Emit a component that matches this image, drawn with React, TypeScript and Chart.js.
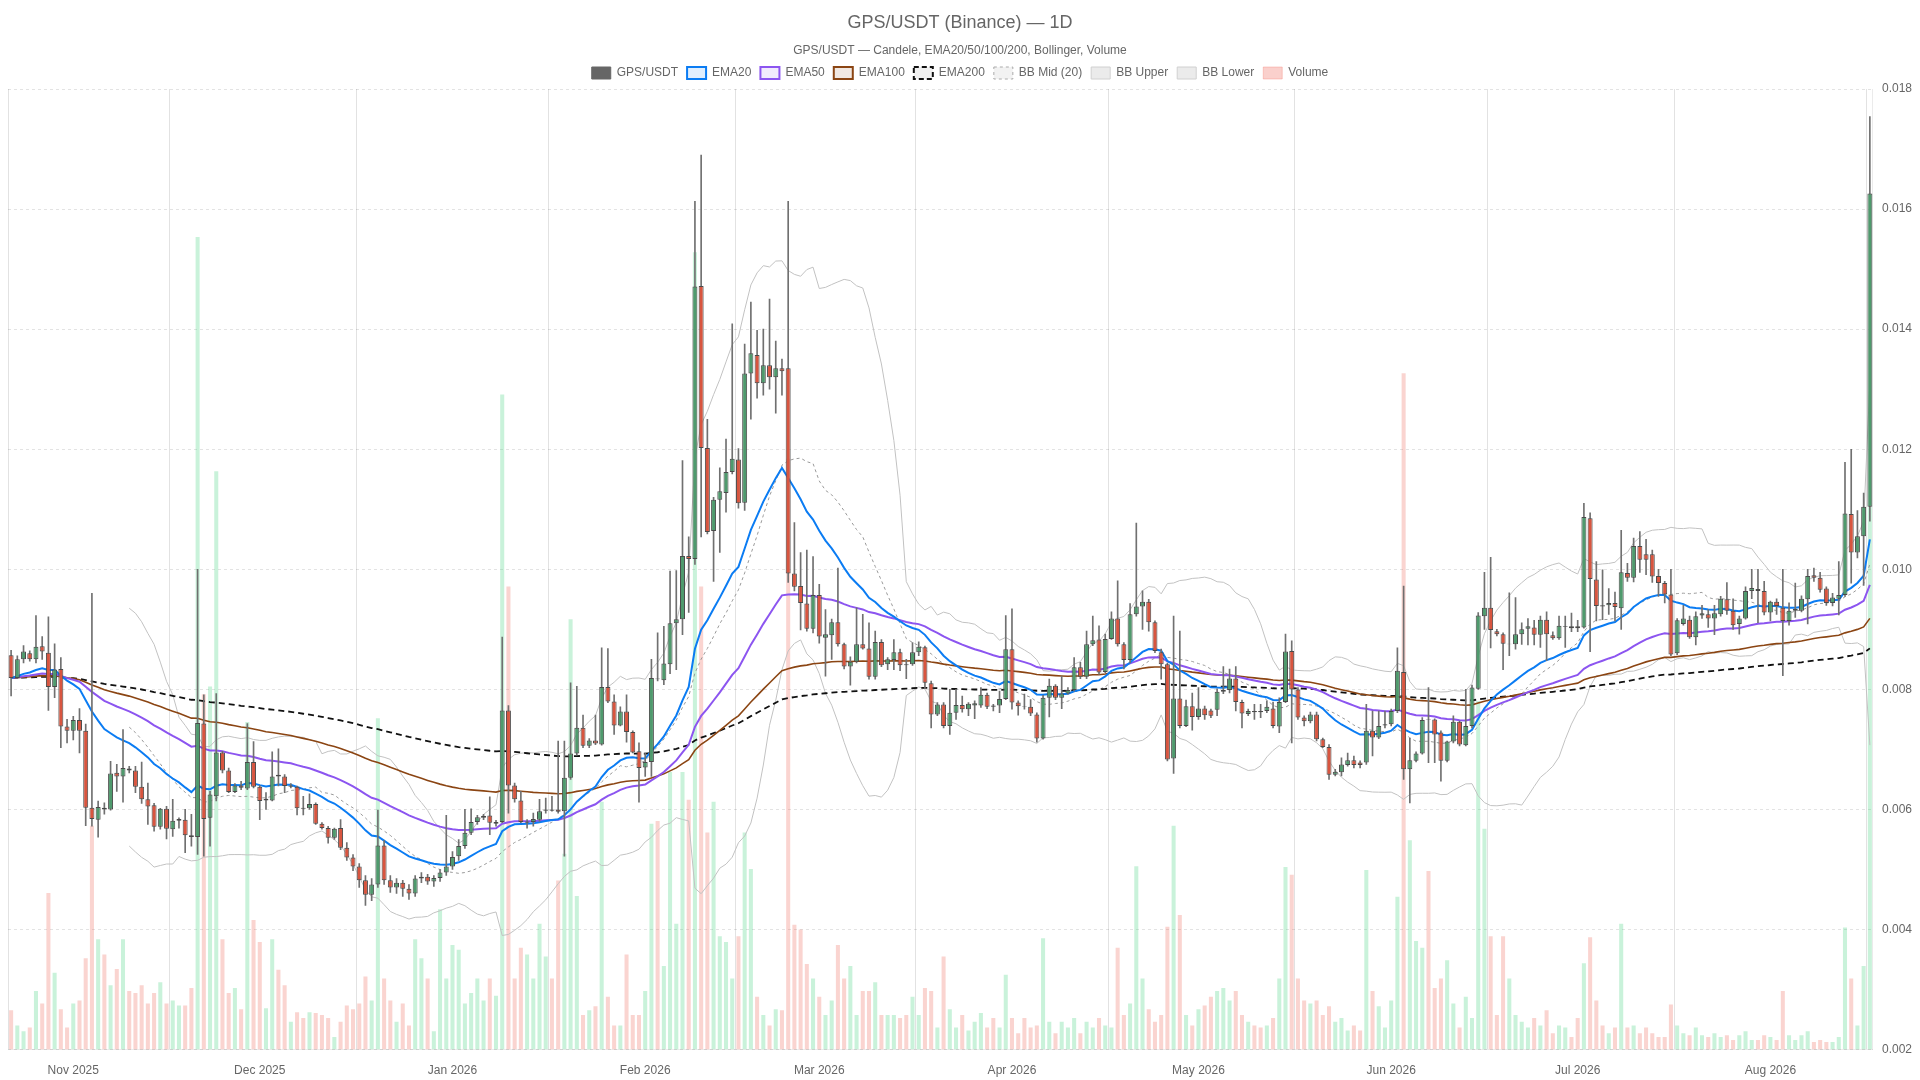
import React, { useEffect, useRef } from 'react';
import { Chart, registerables } from 'chart.js';

Chart.register(...registerables);

// ---------- data ----------
const START_DATE = '2025-10-22';

const OPEN = [
  0.00857,0.00819,0.00850,0.00860,0.00850,0.00872,0.00861,0.00804,0.00834,0.00738,
  0.00731,0.00749,0.00731,0.00603,0.00583,0.00603,0.00600,0.00661,0.00655,0.00668,
  0.00665,0.00638,0.00617,0.00607,0.00571,0.00601,0.00567,0.00581,0.00583,0.00557,
  0.00554,0.00743,0.00586,0.00622,0.00695,0.00665,0.00629,0.00640,0.00635,0.00679,
  0.00638,0.00615,0.00615,0.00658,0.00655,0.00638,0.00638,0.00603,0.00602,0.00609,
  0.00576,0.00569,0.00553,0.00569,0.00536,0.00520,0.00505,0.00482,0.00458,0.00475,
  0.00540,0.00482,0.00470,0.00478,0.00468,0.00460,0.00485,0.00488,0.00480,0.00486,
  0.00495,0.00505,0.00522,0.00539,0.00561,0.00579,0.00586,0.00590,0.00576,0.00579,
  0.00765,0.00640,0.00615,0.00578,0.00579,0.00583,0.00598,0.00600,0.00600,0.00597,
  0.00653,0.00693,0.00736,0.00706,0.00715,0.00708,0.00804,0.00780,0.00740,0.00763,
  0.00729,0.00697,0.00670,0.00679,0.00818,0.00815,0.00842,0.00910,0.00917,0.01022,
  0.01017,0.01472,0.01202,0.01064,0.01116,0.01127,0.01162,0.01183,0.01111,0.01326,
  0.01357,0.01310,0.01340,0.01320,0.01335,0.01335,0.00993,0.00972,0.00943,0.00901,
  0.00957,0.00886,0.00890,0.00912,0.00875,0.00838,0.00846,0.00875,0.00868,0.00821,
  0.00879,0.00842,0.00849,0.00862,0.00842,0.00842,0.00862,0.00870,0.00810,0.00758,
  0.00775,0.00739,0.00761,0.00774,0.00767,0.00773,0.00773,0.00791,0.00773,0.00773,
  0.00784,0.00867,0.00778,0.00772,0.00771,0.00758,0.00718,0.00786,0.00806,0.00786,
  0.00793,0.00799,0.00837,0.00821,0.00875,0.00883,0.00829,0.00884,0.00918,0.00875,
  0.00849,0.00925,0.00938,0.00946,0.00912,0.00862,0.00842,0.00685,0.00785,0.00739,
  0.00772,0.00754,0.00768,0.00765,0.00766,0.00796,0.00799,0.00818,0.00779,0.00759,
  0.00764,0.00764,0.00764,0.00768,0.00738,0.00779,0.00864,0.00800,0.00753,0.00747,
  0.00758,0.00717,0.00704,0.00658,0.00662,0.00674,0.00682,0.00678,0.00678,0.00731,
  0.00720,0.00740,0.00742,0.00764,0.00829,0.00667,0.00681,0.00693,0.00750,0.00750,
  0.00728,0.00681,0.00713,0.00746,0.00707,0.00739,0.00801,0.00922,0.00936,0.00897,
  0.00892,0.00875,0.00875,0.00892,0.00901,0.00903,0.00891,0.00916,0.00890,0.00885,
  0.00904,0.00905,0.00905,0.00903,0.01085,0.00983,0.00940,0.00940,0.00944,0.00935,
  0.00994,0.00986,0.01039,0.01025,0.01025,0.00989,0.00977,0.00958,0.00860,0.00909,
  0.00916,0.00887,0.00923,0.00925,0.00918,0.00925,0.00950,0.00931,0.00909,0.00918,
  0.00964,0.00967,0.00964,0.00928,0.00946,0.00936,0.00914,0.00931,0.00931,0.00950,
  0.00990,0.00986,0.00968,0.00944,0.00951,0.00957,0.01092,0.01028,0.01055,0.01104,
];

const HIGH = [
  0.00865,0.00856,0.00873,0.00864,0.00923,0.00888,0.00921,0.00876,0.00853,0.00750,
  0.00755,0.00768,0.00742,0.00960,0.00614,0.00611,0.00680,0.00675,0.00733,0.00672,
  0.00672,0.00679,0.00644,0.00610,0.00602,0.00605,0.00617,0.00586,0.00600,0.00592,
  0.01000,0.00791,0.00630,0.00793,0.00697,0.00669,0.00643,0.00647,0.00743,0.00713,
  0.00640,0.00628,0.00696,0.00701,0.00658,0.00643,0.00639,0.00622,0.00626,0.00611,
  0.00578,0.00572,0.00569,0.00583,0.00545,0.00525,0.00510,0.00490,0.00485,0.00599,
  0.00548,0.00490,0.00485,0.00482,0.00475,0.00490,0.00495,0.00492,0.00490,0.00500,
  0.00590,0.00530,0.00550,0.00600,0.00601,0.00590,0.00592,0.00621,0.00582,0.00887,
  0.00773,0.00644,0.00630,0.00583,0.00594,0.00617,0.00619,0.00622,0.00714,0.00714,
  0.00811,0.00805,0.00757,0.00718,0.00757,0.00869,0.00868,0.00791,0.00771,0.00791,
  0.00731,0.00711,0.00694,0.00850,0.00894,0.00905,0.00997,0.00998,0.01181,0.01054,
  0.01613,0.01690,0.01250,0.01120,0.01169,0.01217,0.01409,0.01201,0.01375,0.01445,
  0.01398,0.01400,0.01450,0.01380,0.01350,0.01613,0.01078,0.01028,0.01032,0.01021,
  0.00975,0.00933,0.00917,0.01002,0.00877,0.00854,0.00936,0.00925,0.00911,0.00897,
  0.00883,0.00853,0.00883,0.00867,0.00850,0.00878,0.00879,0.00872,0.00814,0.00778,
  0.00778,0.00800,0.00800,0.00789,0.00778,0.00781,0.00803,0.00794,0.00775,0.00797,
  0.00923,0.00934,0.00781,0.00792,0.00783,0.00761,0.00790,0.00817,0.00808,0.00822,
  0.00803,0.00853,0.00845,0.00897,0.00922,0.00906,0.00892,0.00929,0.00981,0.00878,
  0.00943,0.01077,0.00964,0.00950,0.00914,0.00867,0.00844,0.00922,0.00897,0.00782,
  0.00794,0.00803,0.00772,0.00767,0.00801,0.00838,0.00834,0.00838,0.00782,0.00767,
  0.00775,0.00775,0.00781,0.00779,0.00786,0.00892,0.00881,0.00803,0.00756,0.00762,
  0.00762,0.00719,0.00708,0.00667,0.00686,0.00694,0.00689,0.00681,0.00775,0.00764,
  0.00764,0.00764,0.00767,0.00869,0.00972,0.00719,0.00696,0.00753,0.00803,0.00751,
  0.00731,0.00714,0.00756,0.00747,0.00800,0.00807,0.00928,0.00995,0.01020,0.00900,
  0.00894,0.00961,0.00953,0.00911,0.00918,0.00915,0.00922,0.00929,0.00896,0.00922,
  0.00922,0.00927,0.00915,0.01110,0.01094,0.01013,0.00999,0.00968,0.00962,0.01065,
  0.01010,0.01052,0.01063,0.01050,0.01032,0.01000,0.00980,0.01000,0.00918,0.00940,
  0.00922,0.00929,0.00940,0.00933,0.00940,0.00955,0.00978,0.00951,0.00922,0.00971,
  0.01000,0.01000,0.00980,0.00947,0.00951,0.01000,0.00944,0.00977,0.00956,0.01000,
  0.01002,0.00995,0.00971,0.00960,0.01013,0.01178,0.01200,0.01098,0.01127,0.01754,
];

const LOW = [
  0.00789,0.00818,0.00844,0.00847,0.00844,0.00850,0.00765,0.00786,0.00703,0.00711,
  0.00716,0.00694,0.00573,0.00572,0.00554,0.00592,0.00599,0.00630,0.00612,0.00661,
  0.00628,0.00610,0.00575,0.00564,0.00567,0.00551,0.00555,0.00569,0.00528,0.00539,
  0.00525,0.00522,0.00539,0.00614,0.00661,0.00628,0.00628,0.00633,0.00633,0.00636,
  0.00583,0.00600,0.00614,0.00639,0.00628,0.00636,0.00591,0.00591,0.00600,0.00575,
  0.00567,0.00544,0.00550,0.00533,0.00515,0.00498,0.00470,0.00440,0.00448,0.00470,
  0.00475,0.00462,0.00460,0.00455,0.00450,0.00455,0.00478,0.00475,0.00472,0.00480,
  0.00490,0.00500,0.00515,0.00535,0.00558,0.00575,0.00583,0.00558,0.00572,0.00578,
  0.00594,0.00612,0.00578,0.00569,0.00572,0.00580,0.00594,0.00597,0.00594,0.00522,
  0.00650,0.00691,0.00703,0.00703,0.00708,0.00707,0.00778,0.00725,0.00739,0.00712,
  0.00694,0.00612,0.00655,0.00655,0.00814,0.00808,0.00826,0.00833,0.00891,0.00928,
  0.01008,0.01054,0.01059,0.00980,0.01028,0.01095,0.01159,0.01102,0.01098,0.01250,
  0.01285,0.01290,0.01300,0.01260,0.01290,0.00978,0.00964,0.00899,0.00897,0.00894,
  0.00877,0.00822,0.00850,0.00872,0.00834,0.00807,0.00844,0.00867,0.00817,0.00817,
  0.00838,0.00833,0.00833,0.00831,0.00818,0.00840,0.00856,0.00801,0.00736,0.00756,
  0.00736,0.00725,0.00750,0.00762,0.00756,0.00751,0.00770,0.00768,0.00764,0.00761,
  0.00783,0.00767,0.00757,0.00767,0.00756,0.00712,0.00717,0.00754,0.00783,0.00768,
  0.00792,0.00797,0.00818,0.00818,0.00873,0.00825,0.00828,0.00883,0.00872,0.00834,
  0.00844,0.00922,0.00900,0.00897,0.00861,0.00817,0.00681,0.00660,0.00736,0.00738,
  0.00732,0.00750,0.00750,0.00753,0.00756,0.00793,0.00794,0.00764,0.00736,0.00756,
  0.00750,0.00753,0.00761,0.00736,0.00728,0.00778,0.00711,0.00750,0.00739,0.00744,
  0.00714,0.00703,0.00650,0.00656,0.00656,0.00672,0.00669,0.00669,0.00675,0.00689,
  0.00718,0.00736,0.00739,0.00761,0.00650,0.00611,0.00679,0.00692,0.00678,0.00678,
  0.00647,0.00679,0.00711,0.00706,0.00706,0.00736,0.00800,0.00900,0.00869,0.00889,
  0.00833,0.00856,0.00867,0.00875,0.00874,0.00874,0.00870,0.00848,0.00883,0.00883,
  0.00870,0.00896,0.00896,0.00902,0.00863,0.00914,0.00916,0.00925,0.00914,0.00900,
  0.00980,0.00979,0.00995,0.00991,0.00978,0.00955,0.00944,0.00856,0.00858,0.00907,
  0.00885,0.00874,0.00918,0.00903,0.00891,0.00922,0.00925,0.00900,0.00892,0.00917,
  0.00951,0.00911,0.00924,0.00914,0.00925,0.00823,0.00907,0.00920,0.00929,0.00909,
  0.00980,0.00962,0.00940,0.00939,0.00924,0.00955,0.00977,0.01019,0.00973,0.01080,
];

const CLOSE = [
  0.00819,0.00850,0.00863,0.00850,0.00871,0.00863,0.00804,0.00833,0.00738,0.00731,
  0.00749,0.00731,0.00603,0.00584,0.00604,0.00600,0.00660,0.00655,0.00669,0.00665,
  0.00638,0.00617,0.00605,0.00571,0.00601,0.00568,0.00581,0.00584,0.00557,0.00554,
  0.00744,0.00584,0.00625,0.00695,0.00665,0.00629,0.00640,0.00636,0.00679,0.00638,
  0.00614,0.00618,0.00655,0.00655,0.00639,0.00640,0.00602,0.00601,0.00609,0.00576,
  0.00569,0.00553,0.00568,0.00536,0.00520,0.00505,0.00482,0.00458,0.00475,0.00540,
  0.00482,0.00470,0.00478,0.00468,0.00460,0.00485,0.00488,0.00480,0.00486,0.00495,
  0.00505,0.00521,0.00539,0.00561,0.00579,0.00587,0.00589,0.00578,0.00579,0.00765,
  0.00640,0.00617,0.00579,0.00580,0.00584,0.00597,0.00600,0.00598,0.00596,0.00653,
  0.00693,0.00736,0.00706,0.00715,0.00710,0.00804,0.00780,0.00740,0.00763,0.00729,
  0.00695,0.00669,0.00679,0.00819,0.00817,0.00843,0.00910,0.00917,0.01022,0.01017,
  0.01471,0.01202,0.01062,0.01116,0.01130,0.01162,0.01184,0.01110,0.01326,0.01360,
  0.01310,0.01340,0.01320,0.01335,0.01330,0.00993,0.00971,0.00944,0.00901,0.00957,
  0.00888,0.00892,0.00912,0.00875,0.00838,0.00846,0.00875,0.00868,0.00821,0.00879,
  0.00840,0.00850,0.00862,0.00840,0.00840,0.00862,0.00871,0.00811,0.00758,0.00775,
  0.00739,0.00761,0.00774,0.00767,0.00776,0.00777,0.00791,0.00771,0.00771,0.00784,
  0.00867,0.00778,0.00772,0.00771,0.00760,0.00718,0.00786,0.00806,0.00786,0.00793,
  0.00799,0.00837,0.00821,0.00875,0.00882,0.00828,0.00884,0.00918,0.00875,0.00849,
  0.00925,0.00938,0.00946,0.00912,0.00864,0.00842,0.00683,0.00785,0.00739,0.00772,
  0.00754,0.00768,0.00757,0.00756,0.00796,0.00799,0.00818,0.00779,0.00760,0.00764,
  0.00762,0.00762,0.00771,0.00739,0.00779,0.00863,0.00800,0.00753,0.00747,0.00758,
  0.00717,0.00704,0.00658,0.00663,0.00675,0.00682,0.00674,0.00674,0.00731,0.00720,
  0.00739,0.00742,0.00764,0.00831,0.00667,0.00682,0.00693,0.00749,0.00749,0.00725,
  0.00681,0.00713,0.00746,0.00708,0.00739,0.00803,0.00923,0.00936,0.00899,0.00892,
  0.00876,0.00876,0.00892,0.00900,0.00905,0.00891,0.00916,0.00892,0.00885,0.00906,
  0.00905,0.00902,0.00902,0.01087,0.00984,0.00939,0.00938,0.00944,0.00937,0.00995,
  0.00986,0.01039,0.01016,0.01016,0.00988,0.00977,0.00958,0.00858,0.00915,0.00918,
  0.00887,0.00922,0.00927,0.00918,0.00927,0.00951,0.00931,0.00907,0.00918,0.00964,
  0.00969,0.00964,0.00928,0.00946,0.00939,0.00914,0.00931,0.00934,0.00951,0.00989,
  0.00986,0.00966,0.00944,0.00953,0.00957,0.01093,0.01028,0.01055,0.01104,0.01626,
];

// volume, millions of GPS
const VOLUME = [
  4.1,2.5,1.9,2.3,6.1,4.8,16.3,8.0,4.2,2.3,
  4.8,5.1,9.5,23.3,11.5,9.9,6.7,8.4,11.5,6.1,
  5.9,6.7,4.8,5.9,7.0,4.8,5.1,4.6,4.6,6.4,
  84.6,37.0,37.8,60.2,11.5,5.9,6.4,4.2,34.1,13.5,
  11.2,4.3,11.5,8.3,6.7,2.9,3.9,3.3,3.9,3.8,
  3.6,3.3,1.3,2.9,4.6,4.2,4.8,7.6,5.1,34.5,
  7.4,5.1,2.9,4.8,2.5,11.5,9.5,7.4,1.9,14.6,
  7.4,10.9,10.4,4.8,5.9,7.4,5.1,7.4,5.6,68.2,
  48.2,7.4,10.6,9.9,7.4,13.1,9.7,7.4,17.6,20.4,
  44.8,16.0,3.6,4.1,4.5,25.8,5.5,2.5,2.5,9.9,
  3.6,3.6,6.1,23.5,23.8,8.7,28.9,13.1,28.9,26.0,
  83.0,48.2,22.6,25.8,11.8,11.2,7.4,11.8,22.6,18.8,
  5.5,3.6,2.5,4.2,4.1,61.5,13.0,12.5,8.9,7.4,
  5.5,3.6,5.1,10.9,7.4,8.7,3.6,6.1,6.1,7.0,
  3.6,3.6,3.6,3.3,3.6,5.5,3.6,6.4,6.1,2.3,
  9.7,4.2,2.3,3.6,2.0,2.9,3.8,2.3,3.3,2.3,
  7.8,3.3,1.7,3.3,2.3,2.5,11.6,2.9,1.7,2.9,
  2.3,3.3,1.7,2.9,2.3,3.3,2.5,2.3,10.6,3.6,
  4.8,19.1,7.4,4.2,2.9,3.6,12.8,23.3,14.0,3.6,
  2.5,4.2,4.6,5.5,6.1,6.4,5.1,6.1,3.6,2.9,
  2.5,2.3,2.5,3.3,7.4,19.0,18.2,7.4,5.1,4.8,
  5.1,3.6,4.5,2.9,3.3,2.0,2.5,2.0,18.7,6.1,
  4.5,2.3,5.1,15.9,70.4,21.8,11.3,10.6,18.6,6.4,
  7.4,9.3,4.8,2.3,5.5,3.3,36.3,23.0,11.8,3.6,
  11.8,7.4,3.6,2.9,2.3,3.3,2.5,4.1,1.7,2.5,
  2.3,1.3,3.3,9.0,11.7,5.1,2.5,1.7,2.3,13.1,
  2.3,2.5,1.7,2.3,1.7,1.3,1.3,4.7,2.5,1.7,
  1.5,2.3,1.5,1.3,1.7,1.3,1.5,1.0,1.5,1.9,
  1.0,1.0,1.5,1.3,1.0,6.1,1.5,1.0,1.5,1.9,
  0.8,1.0,0.8,0.8,1.3,12.7,7.4,2.5,8.7,56.5,
];

const PRICE_TICKS = [0.002, 0.004, 0.006, 0.008, 0.010, 0.012, 0.014, 0.016, 0.018];
const MONTH_NAMES = ['Jan','Feb','Mar','Apr','May','Jun','Jul','Aug','Sep','Oct','Nov','Dec'];

// ---------- styles ----------
const UP = '#4f9a6d';
const DOWN = '#d8553f';
const VOL_UP = 'rgba(46,204,113,0.26)';
const VOL_DOWN = 'rgba(235,90,75,0.26)';
const C_EMA20 = '#0b7cf3';
const C_EMA50 = '#8c55f0';
const C_EMA100 = '#8b4513';
const C_EMA200 = '#111111';
const CLEAR = 'rgba(0,0,0,0)';

// ---------- derived ----------
const DAY = 86400000;
const t0 = new Date(START_DATE + 'T00:00:00Z').getTime();
const DATES = CLOSE.map((_, i) => new Date(t0 + i * DAY).toISOString().slice(0, 10));

function ema(values: number[], period: number): number[] {
  const k = 2 / (period + 1);
  const out: number[] = [];
  let prev = values[0];
  values.forEach((v, i) => {
    prev = i === 0 ? v : v * k + prev * (1 - k);
    out.push(prev);
  });
  return out;
}

function bollinger(values: number[], period: number, mult: number) {
  const mid: (number | null)[] = [];
  const up: (number | null)[] = [];
  const lo: (number | null)[] = [];
  values.forEach((_, i) => {
    if (i < period - 1) { mid.push(null); up.push(null); lo.push(null); return; }
    const w = values.slice(i - period + 1, i + 1);
    const m = w.reduce((a, b) => a + b, 0) / period;
    const sd = Math.sqrt(w.reduce((a, b) => a + (b - m) * (b - m), 0) / period);
    mid.push(m); up.push(m + mult * sd); lo.push(m - mult * sd);
  });
  return { mid, up, lo };
}

// vertical grid lines half-way between month starts (like an offset time axis)
function monthGridIndexes(): Set<number> {
  const set = new Set<number>([0]);
  const first = new Date(t0);
  let y = first.getUTCFullYear();
  let m = first.getUTCMonth() + 1;
  const starts: number[] = [];
  for (let k = 0; k < 14; k++) {
    const ts = Date.UTC(y, m, 1);
    starts.push(Math.round((ts - t0) / DAY));
    m++; if (m > 11) { m = 0; y++; }
  }
  for (let k = 0; k < starts.length - 1; k++) {
    const mid = (starts[k] + starts[k + 1]) / 2;
    const idx = Math.floor(mid) + 1; // grid offset: line drawn at idx - 0.5
    if (idx > 0 && idx < CLOSE.length) set.add(idx);
  }
  return set;
}

export default function App() {
  const ref = useRef<HTMLCanvasElement | null>(null);

  useEffect(() => {
    if (!ref.current) return;
    const ema20 = ema(CLOSE, 20);
    const ema50 = ema(CLOSE, 50);
    const ema100 = ema(CLOSE, 100);
    const ema200 = ema(CLOSE, 200);
    const bb = bollinger(CLOSE, 20, 2);
    const bodies = CLOSE.map((c, i) => [OPEN[i], c]);
    const wicks = CLOSE.map((_, i) => [LOW[i], HIGH[i]]);
    const isUp = CLOSE.map((c, i) => c >= OPEN[i]);
    const gridIdx = monthGridIndexes();

    const legendItems = [
      { text: 'GPS/USDT', fillStyle: '#666666', strokeStyle: '#666666', lineWidth: 1, lineDash: [] as number[], datasetIndex: 0 },
      { text: 'EMA20', fillStyle: 'rgba(11,124,243,0.12)', strokeStyle: C_EMA20, lineWidth: 2, lineDash: [] as number[], datasetIndex: 2 },
      { text: 'EMA50', fillStyle: 'rgba(140,85,240,0.12)', strokeStyle: C_EMA50, lineWidth: 2, lineDash: [] as number[], datasetIndex: 3 },
      { text: 'EMA100', fillStyle: 'rgba(139,69,19,0.12)', strokeStyle: C_EMA100, lineWidth: 2, lineDash: [] as number[], datasetIndex: 4 },
      { text: 'EMA200', fillStyle: 'rgba(0,0,0,0.06)', strokeStyle: C_EMA200, lineWidth: 2, lineDash: [5, 3], datasetIndex: 5 },
      { text: 'BB Mid (20)', fillStyle: 'rgba(0,0,0,0.05)', strokeStyle: '#aaaaaa', lineWidth: 1, lineDash: [3, 3], datasetIndex: 6 },
      { text: 'BB Upper', fillStyle: 'rgba(0,0,0,0.08)', strokeStyle: '#d0d0d0', lineWidth: 1, lineDash: [] as number[], datasetIndex: 7 },
      { text: 'BB Lower', fillStyle: 'rgba(0,0,0,0.08)', strokeStyle: '#d0d0d0', lineWidth: 1, lineDash: [] as number[], datasetIndex: 8 },
      { text: 'Volume', fillStyle: 'rgba(240,120,110,0.35)', strokeStyle: 'rgba(240,120,110,0.35)', lineWidth: 1, lineDash: [] as number[], datasetIndex: 9 },
    ].map((it) => ({ ...it, hidden: false, fontColor: '#666' }));

    const lineBase = { type: 'line' as const, pointRadius: 0, pointHoverRadius: 0, tension: 0, fill: false, yAxisID: 'y' };

    const chart = new Chart(ref.current, {
      type: 'bar',
      data: {
        labels: DATES,
        datasets: [
          {
            type: 'bar', label: 'GPS/USDT', data: bodies as any, yAxisID: 'y',
            backgroundColor: isUp.map((u) => (u ? UP : DOWN)),
            borderColor: '#4a4a4a', borderWidth: 1, borderSkipped: false,
            barPercentage: 0.8, categoryPercentage: 1, grouped: false, order: 0,
          },
          {
            type: 'bar', label: 'wick', data: wicks as any, yAxisID: 'y',
            backgroundColor: '#707070', barThickness: 1, grouped: false, order: 1,
          },
          { ...lineBase, label: 'EMA20', data: ema20, borderColor: C_EMA20, borderWidth: 2, order: 2 },
          { ...lineBase, label: 'EMA50', data: ema50, borderColor: C_EMA50, borderWidth: 2, order: 3 },
          { ...lineBase, label: 'EMA100', data: ema100, borderColor: C_EMA100, borderWidth: 1.6, order: 4 },
          { ...lineBase, label: 'EMA200', data: ema200, borderColor: C_EMA200, borderWidth: 1.8, borderDash: [6, 4], order: 5 },
          { ...lineBase, label: 'BB Mid (20)', data: bb.mid, borderColor: '#9a9a9a', borderWidth: 1, borderDash: [3, 3], order: 6 },
          { ...lineBase, label: 'BB Upper', data: bb.up, borderColor: '#c2c2c2', borderWidth: 1, order: 7 },
          { ...lineBase, label: 'BB Lower', data: bb.lo, borderColor: '#c2c2c2', borderWidth: 1, order: 8 },
          {
            type: 'bar', label: 'Volume', data: VOLUME, yAxisID: 'y2',
            backgroundColor: isUp.map((u) => (u ? VOL_UP : VOL_DOWN)),
            borderWidth: 0, barPercentage: 0.65, categoryPercentage: 1, grouped: false, order: 20,
          },
        ] as any,
      },
      options: {
        responsive: true,
        maintainAspectRatio: false,
        animation: false,
        events: [],
        layout: { padding: { left: 0, right: 0, top: 0, bottom: 0 } },
        plugins: {
          title: {
            display: true, text: 'GPS/USDT (Binance) — 1D', color: '#666',
            font: { size: 18, weight: 'normal' }, padding: { top: 4, bottom: 8 },
          },
          subtitle: {
            display: true, text: 'GPS/USDT — Candele, EMA20/50/100/200, Bollinger, Volume', color: '#666',
            font: { size: 12 }, padding: { top: 2, bottom: 0 },
          },
          legend: {
            display: true, position: 'top',
            labels: {
              boxWidth: 19, boxHeight: 12, padding: 9, color: '#666', font: { size: 12 },
              generateLabels: () => legendItems as any,
            },
          },
          tooltip: { enabled: false },
        },
        scales: {
          x: {
            type: 'category',
            offset: true,
            grid: {
              offset: true,
              drawTicks: true,
              tickLength: 12,
              tickColor: CLEAR,
              color: (ctx: any) => (gridIdx.has(ctx.index) ? '#e2e2e2' : CLEAR),
              lineWidth: 1,
            },
            border: { display: true, color: 'rgba(0,0,0,0.08)' },
            ticks: {
              autoSkip: false, maxRotation: 0, minRotation: 0, padding: 2, color: '#666', font: { size: 12 },
              callback: (_v: any, index: number) => {
                const d = DATES[index];
                if (!d || d.slice(8, 10) !== '01') return '';
                return `${MONTH_NAMES[parseInt(d.slice(5, 7), 10) - 1]} ${d.slice(0, 4)}`;
              },
            },
          },
          y: {
            type: 'linear', position: 'right',
            min: PRICE_TICKS[0], max: PRICE_TICKS[PRICE_TICKS.length - 1],
            afterBuildTicks: (scale: any) => { scale.ticks = PRICE_TICKS.map((v) => ({ value: v })); },
            grid: { color: 'rgba(0,0,0,0.11)', drawTicks: true, tickLength: 9, tickColor: CLEAR, lineWidth: 1 },
            border: { display: true, color: 'rgba(0,0,0,0.08)', dash: [3, 3] },
            ticks: { padding: 0, color: '#666', font: { size: 12 }, callback: (v: any) => Number(v).toFixed(3) },
          },
          y2: { type: 'linear', display: false, min: 0, max: 100, grid: { display: false } },
        },
      } as any,
    });
    return () => chart.destroy();
  }, []);

  return (
    <div style={{ position: 'absolute', left: 8, top: 8, width: 1904, height: 1072 }}>
      <canvas ref={ref} />
    </div>
  );
}
